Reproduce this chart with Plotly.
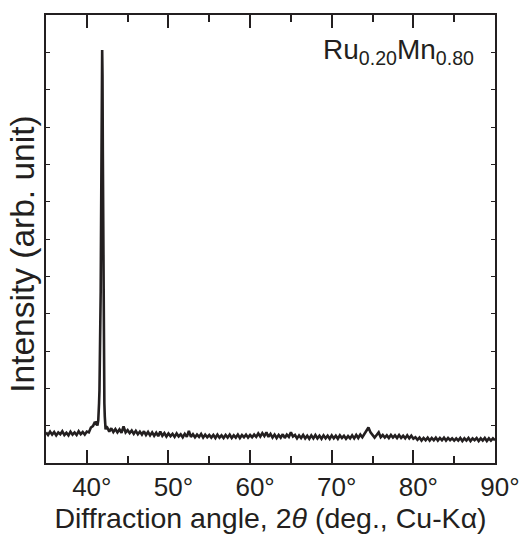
import numpy as np
import plotly.graph_objects as go

# 2-theta sampling (deg) for the scanned baseline, 0.25 deg step
angle_low = np.round(np.arange(35.0, 41.001, 0.25), 2)
angle_high = np.round(np.arange(42.5, 90.001, 0.25), 2)

intensity_low = [
    0.82, 0.75, 0.84, 0.76, 0.83, 0.74, 0.82, 0.77, 0.85, 0.75, 0.81,
    0.74, 0.84, 0.76, 0.82, 0.75, 0.85, 0.77, 0.83, 0.76, 0.84,
    0.82, 0.95, 0.99, 1.10,
]

intensity_high = [
    # 42.50 - 45.00
    0.95, 0.84, 0.93, 0.83, 0.91, 0.82, 0.90, 0.81, 0.98, 0.82, 0.88,
    # 45.25 - 50.00
    0.80, 0.87, 0.78, 0.86, 0.77, 0.84, 0.76, 0.85, 0.75, 0.83,
    0.74, 0.82, 0.73, 0.81, 0.72, 0.84, 0.73, 0.80, 0.71, 0.79,
    # 50.25 - 55.00
    0.72, 0.78, 0.70, 0.79, 0.71, 0.77, 0.69, 0.78, 0.70, 0.86,
    0.70, 0.77, 0.69, 0.76, 0.70, 0.78, 0.68, 0.76, 0.69, 0.75,
    # 55.25 - 60.00
    0.68, 0.75, 0.67, 0.76, 0.68, 0.74, 0.67, 0.75, 0.68, 0.76,
    0.67, 0.74, 0.68, 0.76, 0.67, 0.75, 0.69, 0.76, 0.68, 0.75,
    # 60.25 - 65.00
    0.69, 0.76, 0.70, 0.79, 0.71, 0.80, 0.72, 0.82, 0.70, 0.78,
    0.68, 0.76, 0.67, 0.75, 0.68, 0.77, 0.67, 0.76, 0.70, 0.82,
    # 65.25 - 70.00
    0.71, 0.75, 0.66, 0.74, 0.67, 0.75, 0.66, 0.73, 0.65, 0.74,
    0.66, 0.75, 0.66, 0.73, 0.65, 0.74, 0.66, 0.73, 0.65, 0.74,
    # 70.25 - 75.00
    0.66, 0.73, 0.65, 0.74, 0.67, 0.73, 0.65, 0.72, 0.66, 0.74,
    0.66, 0.75, 0.67, 0.76, 0.69, 0.79, 0.88, 0.95, 0.82, 0.76,
    # 75.25 - 80.00
    0.68, 0.75, 0.82, 0.69, 0.75, 0.68, 0.74, 0.67, 0.75, 0.68,
    0.74, 0.67, 0.75, 0.67, 0.73, 0.66, 0.74, 0.66, 0.73, 0.65,
    # 80.25 - 85.00
    0.69, 0.62, 0.68, 0.60, 0.67, 0.61, 0.68, 0.60, 0.67, 0.61,
    0.68, 0.60, 0.67, 0.61, 0.68, 0.60, 0.67, 0.61, 0.66, 0.60,
    # 85.25 - 90.00
    0.66, 0.60, 0.67, 0.59, 0.66, 0.60, 0.67, 0.59, 0.66, 0.61,
    0.67, 0.59, 0.66, 0.60, 0.67, 0.59, 0.66, 0.60, 0.66, 0.61,
]

# main diffraction peak region
angle_peak = [41.10, 41.20, 41.30, 41.40, 41.45, 41.50, 41.55, 41.60, 41.65,
              41.70, 41.75, 41.80, 41.85, 41.88, 41.92, 41.96, 42.00, 42.05,
              42.10, 42.15, 42.20, 42.25, 42.30, 42.40]
intensity_peak = [1.02, 1.12, 1.00, 1.14, 1.30, 1.60, 1.95, 2.60, 3.40,
                  4.60, 6.50, 8.80, 10.60, 11.06, 10.40, 8.40, 6.00, 3.80,
                  2.40, 1.60, 1.25, 1.05, 0.90, 0.98]

x_ticks = [40, 50, 60, 70, 80, 90]
x_tick_labels = ["40°", "50°", "60°", "70°", "80°", "90°"]

angles = np.concatenate([angle_low, angle_peak, angle_high])
intens = np.concatenate([intensity_low, intensity_peak, intensity_high])
order = np.argsort(angles, kind="stable")
angles = angles[order]
intens = intens[order]

INK = "#231f20"
FONT = "Liberation Sans, Arial, Helvetica, sans-serif"

fig = go.Figure()
fig.add_trace(go.Scatter(x=angles, y=intens, mode="lines",
                         line=dict(color=INK, width=2.6), showlegend=False))

fig.add_annotation(x=0.958, y=0.962, xref="paper", yref="paper",
                   text="Ru<sub>0.20</sub>Mn<sub>0.80</sub>",
                   showarrow=False, xanchor="right", yanchor="top",
                   font=dict(family=FONT, size=28, color=INK))

# y-axis title drawn as rotated annotation (placed slightly below centre as in the original)
fig.add_annotation(x=-0.051, y=0.465, xref="paper", yref="paper",
                   text="Intensity (arb. unit)", textangle=-90,
                   showarrow=False, xanchor="center", yanchor="middle",
                   font=dict(family=FONT, size=33.5, color=INK))

fig.update_xaxes(range=[35, 90], tickvals=x_ticks, ticktext=x_tick_labels,
                 ticks="inside", ticklen=13, tickwidth=1.5, tickcolor=INK,
                 minor=dict(dtick=5, tick0=35, ticks="inside", ticklen=7,
                            tickwidth=1.5, tickcolor=INK),
                 showline=True, linecolor=INK, linewidth=1.8, mirror="ticks",
                 showgrid=False, zeroline=False, automargin=False,
                 tickfont=dict(family=FONT, size=26, color=INK),
                 ticklabelshift=5,
                 title=dict(text="Diffraction angle, 2<i>θ</i> (deg., Cu-Kα)",
                            font=dict(family=FONT, size=28.5, color=INK),
                            standoff=4))
fig.update_yaxes(range=[0, 12], dtick=1, tick0=0, ticks="inside", ticklen=4,
                 tickwidth=1.2, tickcolor=INK, showticklabels=False,
                 showline=True, linecolor=INK, linewidth=1.8, mirror="ticks",
                 showgrid=False, zeroline=False, automargin=False)

fig.update_layout(width=523, height=536,
                  margin=dict(l=46, r=27.5, t=14.7, b=72.7),
                  plot_bgcolor="white", paper_bgcolor="white",
                  font=dict(family=FONT, color=INK))

fig.write_html("out.html")
